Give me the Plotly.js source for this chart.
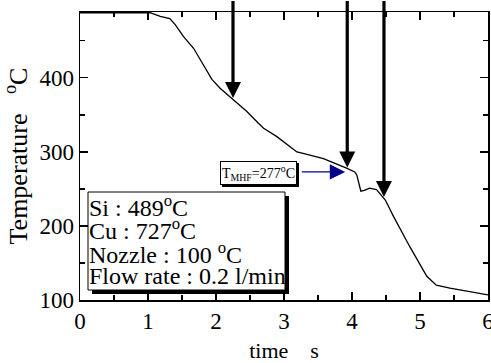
<!DOCTYPE html>
<html><head><meta charset="utf-8">
<script src="https://cdn.plot.ly/plotly-3.0.1.min.js"></script>
<style>html,body{margin:0;padding:0;background:#fff}#plot{width:491px;height:363px}</style>
</head><body><div id="plot"></div>
<script>
// Cooling curve
const time = [0, 0.5, 1.0, 1.03, 1.18, 1.32, 1.4, 1.52, 1.67, 1.79, 1.94, 2.06, 2.25, 2.45, 2.62, 2.70, 2.89, 3.19, 3.28, 3.58, 3.92, 4.04, 4.07, 4.10, 4.13, 4.18, 4.26, 4.36, 4.49, 4.61, 4.85, 5.10, 5.24, 5.44, 5.74, 6.0];
const temperature = [488, 488, 488, 488, 483, 480, 472, 456, 440, 422, 398, 386, 371, 355, 339, 332, 321, 300, 298, 291, 278, 273, 269, 258, 247, 248, 251, 249, 235, 213, 172, 132, 120, 116, 111, 107];
// Arrow markers (time, temperature at tip)
const arrowTimes = [2.25, 3.93, 4.47];
const arrowTemps = [373, 279, 239];
const mhfTime = 3.93, mhfTemp = 273, mhfLabel = 'T<sub>MHF</sub>=277<sup>o</sup>C';
const infoLines = ['Si : 489<sup>o</sup>C', 'Cu : 727<sup>o</sup>C', 'Nozzle : 100 <sup>o</sup>C', 'Flow rate : 0.2 l/min'];
const xTicks = [0, 1, 2, 3, 4, 5, 6];
const yTicks = [100, 200, 300, 400];

const font = 'Liberation Serif';
const annotations = [];
const shapes = [];
arrowTimes.forEach((t, i) => {
  annotations.push({x: t, y: arrowTemps[i], xref: 'x', yref: 'y', axref: 'x', ayref: 'y',
    ax: t, ay: 506, text: '', showarrow: true, arrowhead: 2, arrowsize: 1.0, arrowwidth: 3.2,
    arrowcolor: '#000', standoff: 0});
});
// blue arrow
annotations.push({x: mhfTime - 0.03, y: mhfTemp, xref: 'x', yref: 'y', axref: 'x', ayref: 'y',
  ax: 3.24, ay: mhfTemp, text: '', showarrow: true, arrowhead: 2, arrowsize: 2.2, arrowwidth: 1.4,
  arrowcolor: '#00008b', standoff: 0});

// pixel -> paper helpers (plot area: x 80..488, y 12..300)
const px = p => (p - 80) / 408, py = p => (300 - p) / 288;
// info box: shadow + box
shapes.push({type: 'rect', xref: 'paper', yref: 'paper', x0: px(92), x1: px(289), y0: py(294), y1: py(196),
  fillcolor: '#000', line: {width: 0}, layer: 'above'});
shapes.push({type: 'rect', xref: 'paper', yref: 'paper', x0: px(88), x1: px(285), y0: py(290), y1: py(192),
  fillcolor: '#fff', line: {color: '#000', width: 1}, layer: 'above'});
const lineCenters = [205.5, 229, 252.5, 275.5];
infoLines.forEach((t, i) => {
  annotations.push({xref: 'paper', yref: 'paper', x: px(88), y: py(lineCenters[i]), xanchor: 'left', yanchor: 'middle',
    text: t, showarrow: false, align: 'left', borderpad: 0,
    font: {family: font, size: 24, color: '#000'}});
});
// T_MHF box with shadow
function boxPair(text, x, y, size, pad, shadow) {
  annotations.push({xref: 'paper', yref: 'paper', x: x, y: y, xanchor: 'center', yanchor: 'middle',
    text: text, showarrow: false, xshift: shadow, yshift: -shadow,
    font: {family: font, size: size, color: '#000'}, bgcolor: '#000', bordercolor: '#000',
    borderwidth: 1, borderpad: pad});
  annotations.push({xref: 'paper', yref: 'paper', x: x, y: y, xanchor: 'center', yanchor: 'middle',
    text: text, showarrow: false,
    font: {family: font, size: size, color: '#000'}, bgcolor: '#fff', bordercolor: '#000',
    borderwidth: 1, borderpad: pad});
}
boxPair(mhfLabel, px(258.5), py(172.5), 14, 1, 2);

const tickfont = {family: font, size: 23, color: '#000'};
const axisBase = {showline: true, linecolor: '#000', linewidth: 1.5, mirror: 'ticks',
  ticks: 'inside', ticklen: 8, tickwidth: 1.2, tickcolor: '#000', showgrid: false, zeroline: false,
  ticklabeloverflow: 'allow'};
const layout = {
  width: 491, height: 363, margin: {l: 80, r: 3, t: 12, b: 63},
  font: {family: font, size: 22, color: '#000'},
  paper_bgcolor: '#fff', plot_bgcolor: '#fff', showlegend: false,
  xaxis: Object.assign({}, axisBase, {range: [0, 6], tickvals: xTicks, tickfont: tickfont,
    minor: {dtick: 0.5, ticks: 'inside', ticklen: 5, tickcolor: '#000', tickwidth: 1.2},
    title: {text: 'time    s', font: {family: font, size: 22, color: '#000'}, standoff: 10}}),
  yaxis: Object.assign({}, axisBase, {range: [100, 489], tickvals: yTicks, tickfont: tickfont,
    minor: {dtick: 50, ticks: 'inside', ticklen: 5, tickcolor: '#000', tickwidth: 1.2},
    title: {text: 'Temperature   <sup>o</sup>C', font: {family: font, size: 26, color: '#000'}, standoff: 5}}),
  annotations: annotations,
  shapes: shapes
};
Plotly.newPlot('plot', [{x: time, y: temperature, mode: 'lines', line: {color: '#000', width: 1.3},
  hoverinfo: 'none'}], layout, {staticPlot: true});
</script></body></html>
